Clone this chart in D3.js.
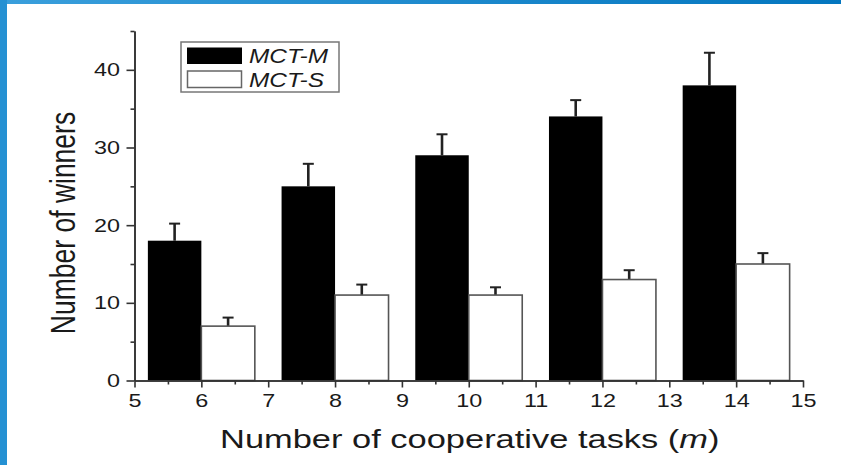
<!DOCTYPE html>
<meta charset="utf-8">
<style>
    body { margin: 0; background: #fff; }
    svg { display: block; }
    text { font-family: "Liberation Sans", Arial, sans-serif; fill: #1a1a1a; }
    .axis path, .axis line { stroke: #333; stroke-width: 1.6; }
</style>
<svg width="841" height="465"></svg>
<script src="https://d3js.org/d3.v7.min.js"></script>
<script>
    // values
    var tasks = [6, 8, 10, 12, 14];
    var mctM = [18, 25, 29, 34, 38];
    var mctMErr = [2.2, 2.9, 2.7, 2.1, 4.2];
    var mctS = [7, 11, 11, 13, 15];
    var mctSErr = [1.1, 1.35, 1.0, 1.2, 1.4];
    var yMajor = [0, 10, 20, 30, 40];
    var yMinor = [5, 15, 25, 35, 45];
    var xMajor = [5, 6, 7, 8, 9, 10, 11, 12, 13, 14, 15];
    var xMinor = [5.5, 6.5, 7.5, 8.5, 9.5, 10.5, 11.5, 12.5, 13.5, 14.5];
    var seriesNames = ["MCT-M", "MCT-S"];

    var sx = 1.3; // the picture is stretched sideways, text too

    var svg = d3.select("svg");

    // blue frame
    var defs = svg.append("defs");
    var grad = defs.append("linearGradient").attr("id", "topband");
    grad.append("stop").attr("offset", "0%").attr("stop-color", "#3a9fdc");
    grad.append("stop").attr("offset", "100%").attr("stop-color", "#0376bf");
    svg.append("rect").attr("x", 0).attr("y", 0).attr("width", 841).attr("height", 4).attr("fill", "url(#topband)");
    svg.append("rect").attr("x", 0).attr("y", 0).attr("width", 7).attr("height", 465).attr("fill", "#2591d3");

    var x = d3.scaleLinear().domain([5, 15]).range([134.5, 803]);
    var y = d3.scaleLinear().domain([0, 45]).range([380.5, 31]);

    var g = svg.append("g");

    // bars
    var rowsM = tasks.map(function (t, i) { return {t: t, v: mctM[i], e: mctMErr[i]}; });
    var rowsS = tasks.map(function (t, i) { return {t: t, v: mctS[i], e: mctSErr[i]}; });

    function errBars(rows, off) {
        var eb = g.append("g").attr("stroke", "#222").attr("fill", "none");
        eb.selectAll("line.v").data(rows).enter().append("line")
            .attr("x1", function (d) { return x(d.t + off); })
            .attr("x2", function (d) { return x(d.t + off); })
            .attr("y1", function (d) { return y(d.v); })
            .attr("y2", function (d) { return y(d.v + d.e); })
            .attr("stroke-width", 2.6);
        eb.selectAll("line.c").data(rows).enter().append("line")
            .attr("x1", function (d) { return x(d.t + off) - 5.5; })
            .attr("x2", function (d) { return x(d.t + off) + 5.5; })
            .attr("y1", function (d) { return y(d.v + d.e); })
            .attr("y2", function (d) { return y(d.v + d.e); })
            .attr("stroke-width", 2);
    }

    errBars(rowsM, -0.4);
    errBars(rowsS, 0.4);

    g.selectAll("rect.m").data(rowsM).enter().append("rect")
        .attr("x", function (d) { return x(d.t - 0.8); })
        .attr("width", function (d) { return x(d.t) - x(d.t - 0.8); })
        .attr("y", function (d) { return y(d.v); })
        .attr("height", function (d) { return y(0) - y(d.v); })
        .attr("fill", "#000");

    g.selectAll("rect.s").data(rowsS).enter().append("rect")
        .attr("x", function (d) { return x(d.t); })
        .attr("width", function (d) { return x(d.t + 0.8) - x(d.t); })
        .attr("y", function (d) { return y(d.v); })
        .attr("height", function (d) { return y(0) - y(d.v); })
        .attr("fill", "#fff")
        .attr("stroke", "#555")
        .attr("stroke-width", 1.6);

    // axes
    var yAx = svg.append("g").attr("class", "axis").attr("transform", "translate(" + x(5) + ",0)")
        .call(d3.axisLeft(y).tickValues(yMajor).tickSize(8).tickSizeOuter(0).tickFormat(d3.format("d")));
    svg.append("g").attr("class", "axis").attr("transform", "translate(" + x(5) + ",0)")
        .call(d3.axisLeft(y).tickValues(yMinor).tickSize(4).tickSizeOuter(0).tickFormat(""));
    var xAx = svg.append("g").attr("class", "axis").attr("transform", "translate(0," + y(0) + ")")
        .call(d3.axisBottom(x).tickValues(xMajor).tickSize(7).tickSizeOuter(0).tickFormat(d3.format("d")));
    svg.append("g").attr("class", "axis").attr("transform", "translate(0," + y(0) + ")")
        .call(d3.axisBottom(x).tickValues(xMinor).tickSize(4).tickSizeOuter(0).tickFormat(""));

    yAx.selectAll("text")
        .attr("x", -14.5 / sx)
        .attr("dy", "0.34em")
        .attr("transform", "scale(" + sx + ",1)")
        .style("font-size", "18px")
        .style("font-family", "'Liberation Sans', Arial, sans-serif")
        .attr("fill", "#1a1a1a");
    xAx.selectAll("text")
        .attr("y", 27)
        .attr("dy", 0)
        .attr("transform", "scale(" + sx + ",1)")
        .style("font-size", "18px")
        .style("font-family", "'Liberation Sans', Arial, sans-serif")
        .attr("fill", "#1a1a1a");

    // axis titles
    var xt = svg.append("text")
        .attr("transform", "translate(" + ((x(5) + x(15)) / 2 + 1) + ",448) scale(" + sx + ",1)")
        .attr("text-anchor", "middle")
        .style("font-size", "26.5px");
    xt.append("tspan").text("Number of cooperative tasks (");
    xt.append("tspan").style("font-style", "italic").text("m");
    xt.append("tspan").text(")");

    svg.append("text")
        .attr("transform", "translate(75,223) rotate(-90) scale(1," + sx + ")")
        .attr("text-anchor", "middle")
        .style("font-size", "26.5px")
        .text("Number of winners");

    // legend
    var lg = svg.append("g");
    lg.append("rect").attr("x", 181).attr("y", 42).attr("width", 158).attr("height", 50)
        .attr("fill", "#fff").attr("stroke", "#777").attr("stroke-width", 1.5);
    lg.append("rect").attr("x", 187).attr("y", 47.5).attr("width", 55).attr("height", 16.5)
        .attr("fill", "#000");
    lg.append("rect").attr("x", 187.5).attr("y", 71).attr("width", 54).attr("height", 16.5)
        .attr("fill", "#fff").attr("stroke", "#666").attr("stroke-width", 1.5);
    lg.selectAll("text.lab").data(seriesNames).enter().append("text")
        .attr("transform", function (d, i) { return "translate(249," + (63 + i * 23.5) + ") scale(1.22,1)"; })
        .style("font-size", "20px")
        .style("font-style", "italic")
        .text(function (d) { return d; });
</script>
